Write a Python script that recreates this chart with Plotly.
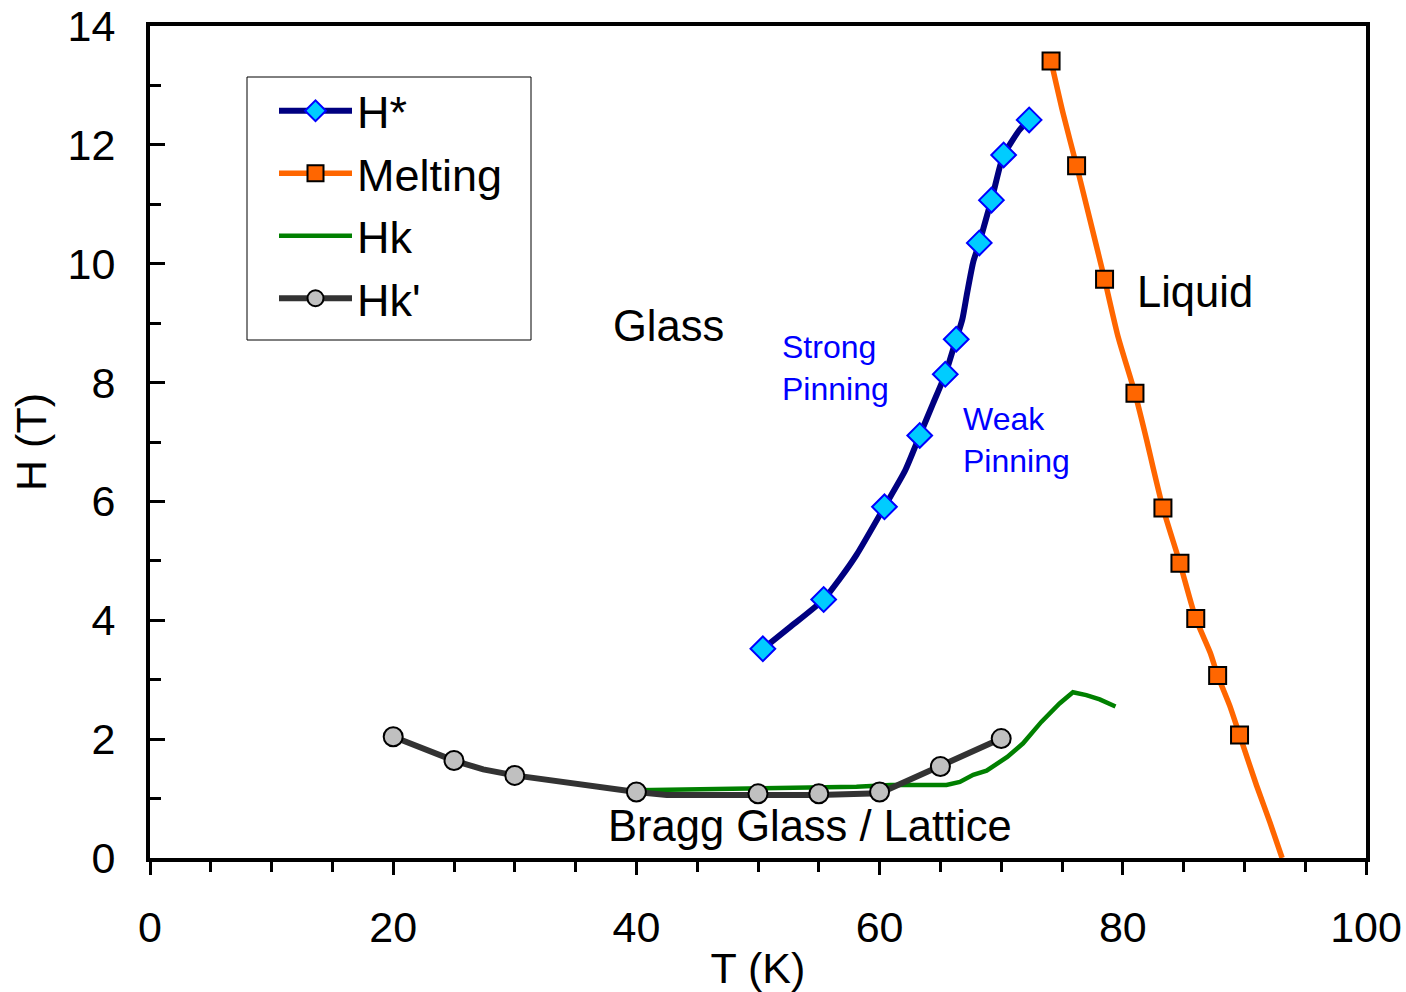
import plotly.graph_objects as go

# ---- H* (crossover field): measured points and traced curve ----
hstar_T = [50.4, 55.4, 60.4, 63.3, 65.4, 66.3, 68.2, 69.2, 70.2, 72.3]
hstar_H = [3.52, 4.35, 5.91, 7.11, 8.14, 8.73, 10.35, 11.07, 11.83, 12.42]
hstar_line_T = [50.4, 52.6, 55.4, 56.7, 58.1, 60.4, 62.1, 63.3, 64.4, 65.4, 66.3,
                66.8, 67.2, 67.7, 68.2, 68.9, 69.2, 69.9, 70.2, 71.5, 72.3]
hstar_line_H = [3.52, 3.88, 4.35, 4.69, 5.10, 5.91, 6.52, 7.11, 7.65, 8.14, 8.73,
                9.06, 9.51, 10.03, 10.35, 10.86, 11.07, 11.64, 11.83, 12.25, 12.42]

# ---- Melting line ----
melt_T = [74.1, 76.2, 78.5, 81.0, 83.3, 84.7, 86.0, 87.8, 89.6]
melt_H = [13.41, 11.65, 9.74, 7.82, 5.89, 4.96, 4.03, 3.07, 2.07]
melt_line_T = [74.1, 75.1, 76.2, 77.3, 78.5, 79.6, 81.0, 82.0, 82.5, 83.3, 84.7,
               86.0, 87.2, 87.8, 88.8, 89.6, 91.0, 92.1, 93.1]
melt_line_H = [13.41, 12.52, 11.65, 10.74, 9.74, 8.78, 7.82, 7.00, 6.56, 5.89, 4.96,
               4.03, 3.45, 3.07, 2.56, 2.07, 1.22, 0.60, 0.0]

# ---- Hk ----
hk_T = [40.0, 48.5, 52.6, 58.1, 60.9, 65.5, 66.6, 67.7, 68.8, 70.5, 71.8, 72.6,
        73.3, 74.8, 75.9, 77.0, 78.1, 79.4]
hk_H = [1.14, 1.16, 1.18, 1.20, 1.23, 1.23, 1.28, 1.40, 1.47, 1.70, 1.93, 2.13,
        2.29, 2.60, 2.79, 2.74, 2.67, 2.55]

# ---- Hk' ----
hkp_T = [20, 25, 30, 40, 50, 55, 60, 65, 70]
hkp_H = [2.04, 1.64, 1.39, 1.11, 1.08, 1.08, 1.11, 1.54, 2.01]
hkp_line_T = [20, 25, 27.4, 30, 40, 42.5, 50, 55, 60, 65, 70]
hkp_line_H = [2.04, 1.64, 1.49, 1.39, 1.11, 1.06, 1.06, 1.06, 1.09, 1.54, 2.01]

# ---- axis ticks ----
x_ticks = [0, 20, 40, 60, 80, 100]
y_ticks = [0, 2, 4, 6, 8, 10, 12, 14]

FONT = "Liberation Sans, Arial, sans-serif"

NAVY = "#000080"
CYAN = "#00CCFF"
ORANGE = "#FF6600"
GREEN = "#008000"
DGRAY = "#333333"
LGRAY = "#C0C0C0"

hstar_marker = dict(symbol="diamond", size=19, color=CYAN, line=dict(color="#0000FF", width=2))
melt_marker = dict(symbol="square", size=17, color=ORANGE, line=dict(color="black", width=2))
hkp_marker = dict(symbol="circle", size=19, color=LGRAY, line=dict(color="black", width=2))

fig = go.Figure()

# curves
fig.add_trace(go.Scatter(x=hstar_line_T, y=hstar_line_H, mode="lines",
                         line=dict(color=NAVY, width=6, shape="spline", smoothing=0.6),
                         showlegend=False, hoverinfo="skip"))
fig.add_trace(go.Scatter(x=melt_line_T, y=melt_line_H, mode="lines",
                         line=dict(color=ORANGE, width=5.5, shape="spline", smoothing=0.6),
                         showlegend=False, hoverinfo="skip"))
fig.add_trace(go.Scatter(x=hk_T, y=hk_H, mode="lines", name="Hk",
                         line=dict(color=GREEN, width=4.5), legendgroup="c", legendrank=3))
fig.add_trace(go.Scatter(x=hkp_line_T, y=hkp_line_H, mode="lines",
                         line=dict(color=DGRAY, width=6),
                         showlegend=False, hoverinfo="skip"))

# measured points
fig.add_trace(go.Scatter(x=hstar_T, y=hstar_H, mode="markers", marker=hstar_marker,
                         showlegend=False))
fig.add_trace(go.Scatter(x=melt_T, y=melt_H, mode="markers", marker=melt_marker,
                         showlegend=False))
fig.add_trace(go.Scatter(x=hkp_T, y=hkp_H, mode="markers", marker=hkp_marker,
                         showlegend=False))

# legend entries
fig.add_trace(go.Scatter(x=[None], y=[None], mode="lines+markers", name="H*",
                         line=dict(color=NAVY, width=6), marker=hstar_marker,
                         legendgroup="a", legendrank=1))
fig.add_trace(go.Scatter(x=[None], y=[None], mode="lines+markers", name="Melting",
                         line=dict(color=ORANGE, width=5.5), marker=melt_marker,
                         legendgroup="b", legendrank=2))
fig.add_trace(go.Scatter(x=[None], y=[None], mode="lines+markers", name="Hk'",
                         line=dict(color=DGRAY, width=6), marker=hkp_marker,
                         legendgroup="d", legendrank=4))

# region labels
fig.add_annotation(x=42.6, y=8.95, text="Glass", showarrow=False,
                   font=dict(size=43.5, color="black"))
fig.add_annotation(x=51.8, y=8.25, text="Strong<br>Pinning", showarrow=False,
                   xanchor="left", align="left", font=dict(size=32, color="#0000FF"))
fig.add_annotation(x=66.7, y=7.03, text="Weak<br>Pinning", showarrow=False,
                   xanchor="left", align="left", font=dict(size=32, color="#0000FF"))
fig.add_annotation(x=81.0, y=9.52, text="Liquid", showarrow=False, xanchor="left",
                   font=dict(size=43.5, color="black"))
fig.add_annotation(x=54.3, y=0.54, text="Bragg Glass / Lattice", showarrow=False,
                   font=dict(size=43.5, color="black"))

# legend frame
fig.add_shape(type="rect", xref="paper", yref="paper",
              x0=(247 - 150) / 1216, x1=(531 - 150) / 1216,
              y0=(858 - 340) / 832, y1=(858 - 77) / 832,
              line=dict(color="black", width=1), fillcolor="white", layer="below")

fig.update_layout(
    width=1406, height=992,
    margin=dict(l=150, r=40, t=26, b=134),
    paper_bgcolor="white", plot_bgcolor="white",
    font=dict(family=FONT, size=43, color="black"),
    legend=dict(x=(274 - 150) / 1216, y=(858 - 75) / 832, xanchor="left", yanchor="top",
                bgcolor="rgba(0,0,0,0)", borderwidth=0,
                font=dict(size=45), itemwidth=73, tracegroupgap=1),
    xaxis=dict(range=[0, 100], tickvals=x_ticks, showgrid=False, zeroline=False,
               showline=True, linecolor="black", linewidth=4, mirror=True,
               ticks="outside", ticklen=13, tickwidth=3, tickcolor="black",
               minor=dict(dtick=5, ticks="outside", ticklen=10, tickwidth=3, tickcolor="black"),
               ticklabelstandoff=15, automargin=False,
               title=dict(text="T (K)", font=dict(size=43), standoff=20),
               tickfont=dict(size=43)),
    yaxis=dict(range=[0, 14], tickvals=y_ticks, showgrid=False, zeroline=False,
               showline=True, linecolor="black", linewidth=4, mirror=True,
               ticks="inside", ticklen=15, tickwidth=3, tickcolor="black",
               minor=dict(dtick=1, ticks="inside", ticklen=11, tickwidth=3, tickcolor="black"),
               ticklabelstandoff=22, automargin=False,
               title=dict(text="H (T)", font=dict(size=43), standoff=9),
               tickfont=dict(size=43)),
)

fig.write_html("out.html")
